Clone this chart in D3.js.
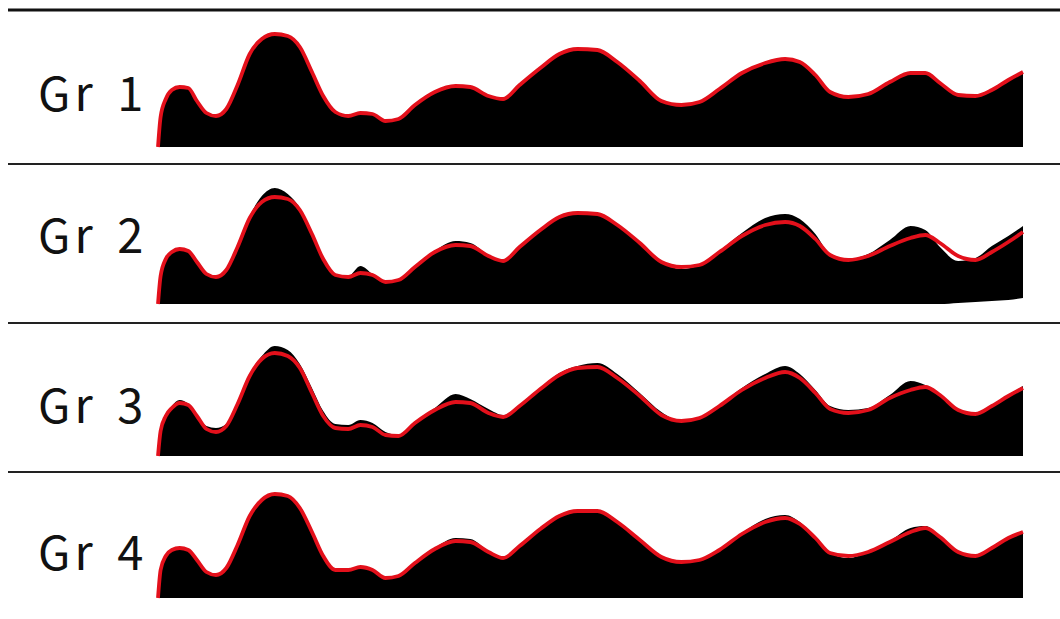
<!DOCTYPE html>
<html>
<head>
<meta charset="utf-8">
<script src="https://cdn.jsdelivr.net/npm/d3@7"></script>
<style>
  html, body { margin: 0; padding: 0; background: #fff; }
  svg { display: block; }
</style>
</head>
<body>
<svg id="chart" width="1060" height="619"></svg>
<script>
// Sample positions along the profile (0 = left end, 1000 = right end)
const positions = [0, 3, 9, 16, 25, 35, 45, 56, 67, 79, 92, 106, 120, 135, 150, 164, 178, 191, 205, 220, 234, 248, 263, 278, 297, 320, 344, 361, 382, 399, 418, 442, 464, 485, 508, 531, 557, 582, 605, 626, 649, 675, 702, 725, 742, 760, 777, 798, 821, 846, 870, 887, 904, 925, 945, 964, 983, 1000];

const groups = ["Gr 1", "Gr 2", "Gr 3", "Gr 4"];

// Measured profiles (black fill)
const gr1Profile = [0, 30, 48, 57, 60, 59, 46, 34, 31, 38, 62, 93, 108, 113, 111, 100, 75, 51, 35, 31, 34, 33, 26, 28, 42, 55, 61, 60, 51, 48, 62, 79, 93, 98, 97, 85, 66, 46, 42, 45, 58, 74, 84, 88, 85, 72, 55, 50, 53, 65, 74, 74, 64, 52, 51, 57, 67, 75];
const gr2Profile = [0, 28, 45, 52, 55, 53, 42, 30, 27, 34, 57, 88, 108, 116, 110, 96, 71, 46, 29, 28, 38, 30, 22, 24, 37, 53, 63, 61, 49, 43, 57, 74, 87, 91, 90, 79, 61, 42, 35, 39, 53, 71, 86, 90, 85, 70, 50, 45, 50, 64, 78, 74, 57, 43, 46, 58, 68, 78];
const gr3Profile = [0, 25, 41, 50, 56, 52, 41, 30, 28, 32, 54, 82, 100, 110, 106, 92, 68, 45, 32, 31, 36, 33, 24, 21, 34, 48, 62, 57, 47, 41, 51, 68, 83, 90, 93, 82, 63, 44, 35, 39, 51, 68, 82, 90, 82, 66, 50, 46, 48, 61, 75, 71, 62, 47, 43, 51, 61, 70];
const gr4Profile = [0, 28, 42, 48, 51, 48, 38, 27, 24, 31, 54, 83, 99, 105, 103, 91, 67, 43, 29, 29, 32, 29, 21, 22, 35, 50, 60, 59, 47, 40, 52, 69, 82, 88, 88, 77, 59, 42, 36, 38, 49, 65, 79, 83, 76, 61, 45, 40, 46, 57, 70, 72, 62, 47, 42, 50, 60, 66];

// Lower edge of each measured profile (non-zero where the trace lifts off the floor)
const gr1Floor = positions.map(() => 0);
const gr2Floor = [0, 0, 0, 0, 0, 0, 0, 0, 0, 0, 0, 0, 0, 0, 0, 0, 0, 0, 0, 0, 0, 0, 0, 0, 0, 0, 0, 0, 0, 0, 0, 0, 0, 0, 0, 0, 0, 0, 0, 0, 0, 0, 0, 0, 0, 0, 0, 0, 0, 0, 0, 0, 0, 1, 2, 3, 4, 6];
const gr3Floor = positions.map(() => 0);
const gr4Floor = positions.map(() => 0);

// Fitted curves (red line)
const gr1Fit = [0, 30, 48, 57, 60, 59, 46, 34, 31, 38, 62, 93, 108, 113, 111, 100, 75, 51, 35, 31, 34, 33, 26, 28, 42, 55, 61, 60, 51, 48, 62, 79, 93, 98, 97, 85, 66, 46, 42, 45, 58, 74, 84, 88, 85, 72, 55, 50, 53, 65, 74, 74, 64, 52, 51, 57, 67, 75];
const gr2Fit = [0, 28, 45, 52, 55, 53, 42, 30, 27, 34, 57, 86, 102, 107, 105, 94, 70, 45, 29, 27, 31, 29, 22, 24, 37, 52, 59, 58, 48, 43, 57, 74, 87, 91, 90, 79, 61, 42, 37, 39, 52, 68, 79, 82, 78, 65, 49, 44, 48, 58, 66, 69, 61, 48, 44, 52, 62, 72];
const gr3Fit = [0, 25, 40, 48, 53, 51, 40, 27, 24, 30, 52, 80, 97, 103, 100, 88, 63, 40, 28, 27, 31, 29, 21, 20, 33, 46, 54, 53, 43, 39, 50, 67, 81, 88, 89, 78, 60, 41, 35, 38, 50, 66, 78, 84, 78, 63, 47, 43, 46, 58, 66, 69, 61, 46, 42, 50, 60, 68];
const gr4Fit = [0, 28, 42, 48, 50, 48, 38, 26, 23, 30, 53, 82, 98, 104, 102, 90, 66, 42, 28, 28, 31, 28, 20, 22, 35, 49, 57, 56, 46, 40, 52, 69, 82, 87, 87, 76, 58, 41, 36, 38, 48, 64, 76, 80, 74, 60, 45, 42, 46, 56, 66, 70, 61, 46, 42, 50, 60, 66];

const profiles = [gr1Profile, gr2Profile, gr3Profile, gr4Profile];
const floors = [gr1Floor, gr2Floor, gr3Floor, gr4Floor];
const fits = [gr1Fit, gr2Fit, gr3Fit, gr4Fit];

// ---- layout ----
const svg = d3.select("#chart");
const plotLeft = 158, plotRight = 1023;
const baselines = [147, 304, 456, 598];   // floor of each strip
const labelBaselines = [111, 253, 423, 570];
const separators = [164, 323, 472];
const stripHeight = 120;                   // pixels for the value range below

const x = d3.scaleLinear().domain([0, 1000]).range([plotLeft, plotRight]);

// top rule
svg.append("line")
  .attr("x1", 8).attr("x2", 1060).attr("y1", 10).attr("y2", 10)
  .attr("stroke", "#111").attr("stroke-width", 3);

// strip separators
svg.selectAll("line.sep").data(separators).join("line")
  .attr("class", "sep")
  .attr("x1", 8).attr("x2", 1060)
  .attr("y1", d => d).attr("y2", d => d)
  .attr("stroke", "#222").attr("stroke-width", 2);

groups.forEach((name, i) => {
  const y = d3.scaleLinear().domain([0, 120]).range([baselines[i], baselines[i] - stripHeight]);
  const g = svg.append("g").attr("class", "strip");

  const rows = positions.map((p, k) => ({ p, lo: floors[i][k], hi: profiles[i][k], fit: fits[i][k] }));

  const area = d3.area()
    .x(d => x(d.p))
    .y0(d => y(d.lo))
    .y1(d => y(d.hi))
    .curve(d3.curveMonotoneX);

  const line = d3.line()
    .x(d => x(d.p))
    .y(d => y(d.fit))
    .curve(d3.curveMonotoneX);

  g.append("path").datum(rows)
    .attr("d", area)
    .attr("fill", "#000");

  g.append("path").datum(rows)
    .attr("d", line)
    .attr("fill", "none")
    .attr("stroke", "#e3101b")
    .attr("stroke-width", 3.8)
    .attr("stroke-linejoin", "round");

  g.append("text")
    .attr("x", 38).attr("y", labelBaselines[i])
    .attr("font-family", "'Noto Sans CJK JP', 'Noto Sans', sans-serif")
    .attr("font-size", 47)
    .attr("letter-spacing", 4)
    .attr("word-spacing", 6)
    .attr("fill", "#111")
    .text(name);
});
</script>
</body>
</html>
